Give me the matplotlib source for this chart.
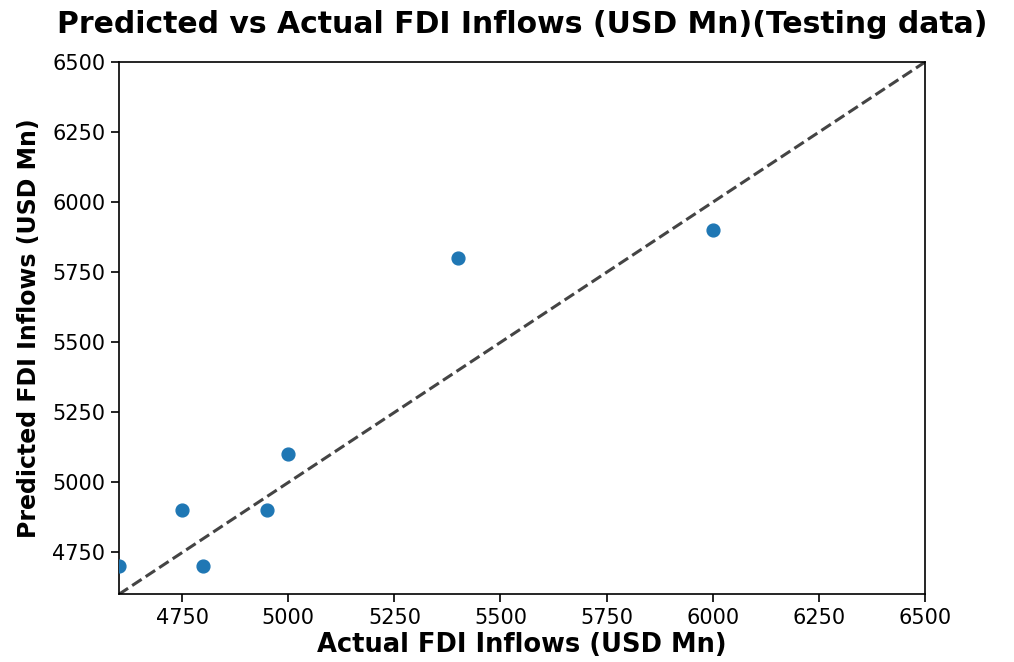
import matplotlib
matplotlib.use("Agg")
import matplotlib.pyplot as plt

# Actual vs predicted FDI inflows (testing data)
actual = [4600, 4750, 4800, 4950, 5000, 5400, 6000]
predicted = [4700, 4900, 4700, 4900, 5100, 5800, 5900]
axis_min, axis_max = 4600, 6500
ticks = [4750, 5000, 5250, 5500, 5750, 6000, 6250, 6500]

fig = plt.figure(figsize=(10.14, 6.62), dpi=100)
ax = fig.add_axes([0.117, 0.102, 0.795, 0.804])

ax.scatter(actual, predicted, color="#1f77b4", s=85, zorder=3)
ax.plot([axis_min, axis_max], [axis_min, axis_max], linestyle="--", color="#444444",
        linewidth=2.2, zorder=2)

ax.set_xlim(axis_min, axis_max)
ax.set_ylim(axis_min, axis_max)
ax.set_xticks(ticks)
ax.set_yticks(ticks)
ax.tick_params(labelsize=15, width=1.2, length=6)
for s in ax.spines.values():
    s.set_linewidth(1.2)

ax.set_xlabel("Actual FDI Inflows (USD Mn)", fontsize=18.5, fontweight="bold", labelpad=3)
ax.set_ylabel("Predicted FDI Inflows (USD Mn)", fontsize=17, fontweight="bold", labelpad=8)
fig.suptitle("Predicted vs Actual FDI Inflows (USD Mn)(Testing data)", fontsize=21.5,
             fontweight="bold", x=0.515, y=0.985)

fig.savefig("out.png", dpi=100)
